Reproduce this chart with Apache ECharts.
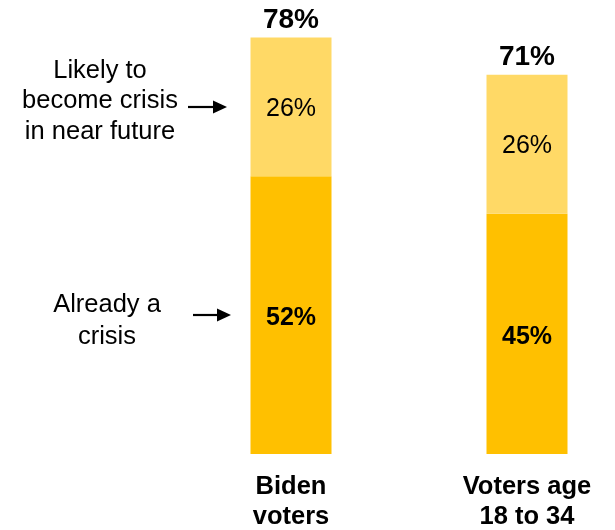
<!DOCTYPE html>
<html>
<head>
<meta charset="utf-8">
<script src="https://cdn.jsdelivr.net/npm/echarts@6/dist/echarts.min.js"></script>
<style>
html,body{margin:0;padding:0;background:#fff;}
#main{width:615px;height:530px;}
</style>
</head>
<body>
<div id="main"></div>
<script>
var categories = ['Biden\nvoters', 'Voters age\n18 to 34'];
var alreadyCrisis = [52, 45];
var likelyCrisis = [26, 26];
var totals = [78, 71];
var annotationTop = 'Likely to\nbecome crisis\nin near future';
var annotationBottom = 'Already a\ncrisis';

var FONT = 'Liberation Sans, Arial, Helvetica, sans-serif';
var chart = echarts.init(document.getElementById('main'), null, {renderer: 'canvas'});

function arrow(x1, x2, y) {
  return [
    {type: 'line', shape: {x1: x1, y1: y, x2: x2 - 12, y2: y}, style: {stroke: '#000', lineWidth: 2.2}},
    {type: 'polygon', shape: {points: [[x2 - 14, y - 6.5], [x2, y], [x2 - 14, y + 6.5]]}, style: {fill: '#000'}}
  ];
}

var option = {
  animation: false,
  backgroundColor: '#ffffff',
  grid: {left: 291, width: 236, top: 0, bottom: 76, containLabel: false, outerBoundsMode: 'none'},
  xAxis: {
    type: 'category',
    data: categories,
    boundaryGap: false,
    axisLine: {show: false},
    axisTick: {show: false},
    axisLabel: {
      margin: 18,
      fontFamily: FONT,
      fontSize: 25.5,
      fontWeight: 'bold',
      color: '#000',
      lineHeight: 30,
      interval: 0
    }
  },
  yAxis: {
    type: 'value',
    min: 0,
    max: 85,
    show: false,
    splitLine: {show: false}
  },
  series: [
    {
      name: 'Total',
      type: 'bar',
      data: totals,
      barWidth: 81,
      barGap: '-100%',
      z: 1,
      itemStyle: {color: 'rgba(0,0,0,0)'},
      label: {
        show: true,
        position: 'top',
        distance: 3,
        formatter: function (p) { return p.value + '%'; },
        fontFamily: FONT,
        fontSize: 28,
        fontWeight: 'bold',
        color: '#000'
      }
    },
    {
      name: 'Already a crisis',
      type: 'bar',
      stack: 'a',
      data: alreadyCrisis,
      barWidth: 81,
      z: 2,
      itemStyle: {color: '#FFC000'},
      label: {
        show: true,
        position: 'inside',
        offset: [0, 3],
        formatter: function (p) { return p.value + '%'; },
        fontFamily: FONT,
        fontSize: 25,
        fontWeight: 'bold',
        color: '#000'
      }
    },
    {
      name: 'Likely to become crisis in near future',
      type: 'bar',
      stack: 'a',
      data: likelyCrisis,
      barWidth: 81,
      z: 2,
      itemStyle: {color: '#FFD966'},
      label: {
        show: true,
        position: 'inside',
        offset: [0, 2],
        formatter: function (p) { return p.value + '%'; },
        fontFamily: FONT,
        fontSize: 25,
        fontWeight: 'normal',
        color: '#000'
      }
    }
  ],
  graphic: [
    {
      type: 'text',
      x: 100, y: 101,
      style: {
        text: annotationTop,
        fontFamily: FONT,
        fontSize: 25.5,
        lineHeight: 30.5,
        fill: '#000',
        align: 'center',
        verticalAlign: 'middle'
      }
    },
    {
      type: 'text',
      x: 107, y: 321,
      style: {
        text: annotationBottom,
        fontFamily: FONT,
        fontSize: 25.5,
        lineHeight: 31.5,
        fill: '#000',
        align: 'center',
        verticalAlign: 'middle'
      }
    }
  ].concat(arrow(188, 227, 107)).concat(arrow(193, 231, 315))
};
chart.setOption(option);
</script>
</body>
</html>
